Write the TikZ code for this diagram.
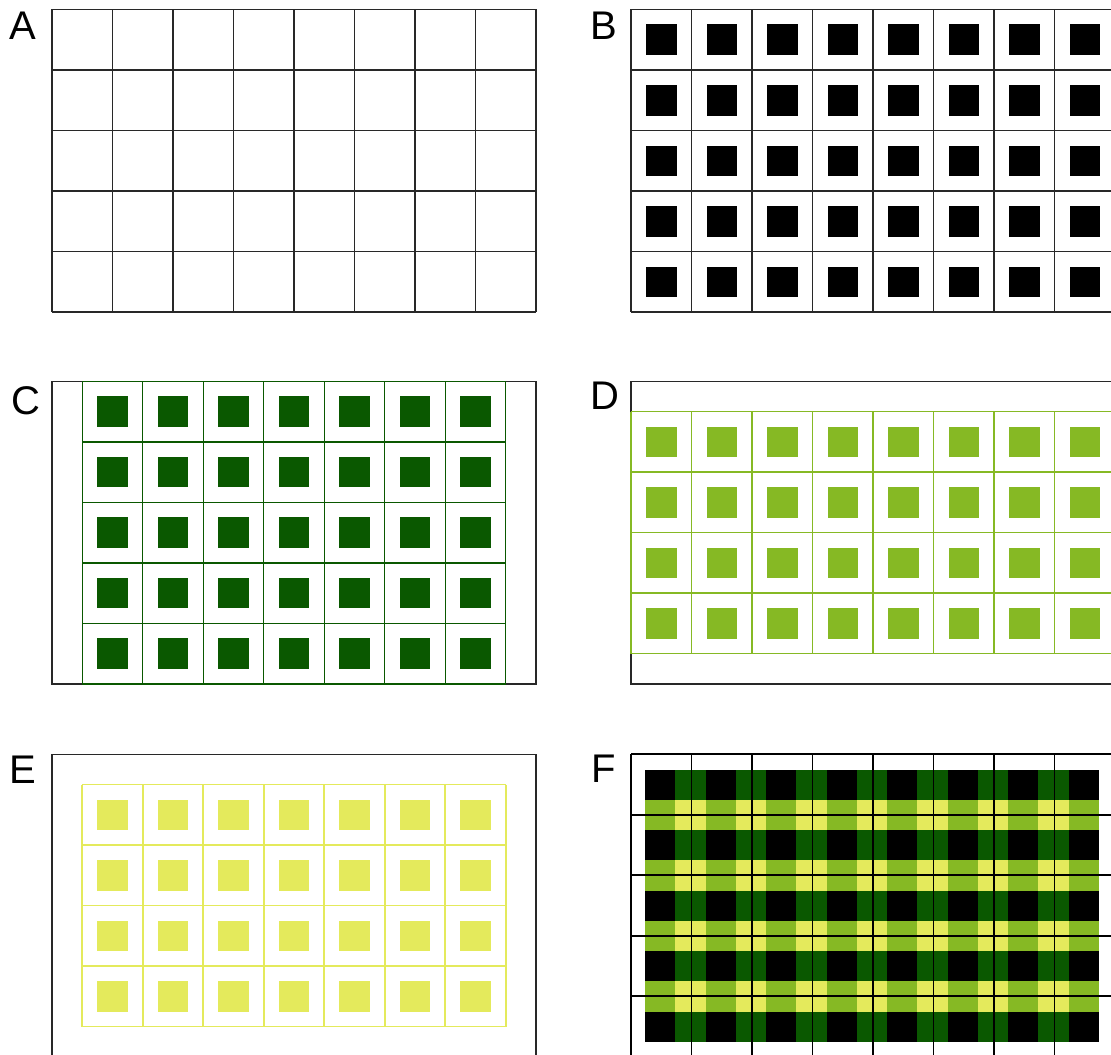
\documentclass[tikz,border=0pt]{standalone}
\usepackage{fontspec}
\setmainfont{Liberation Sans}
\usepackage{xcolor}
\definecolor{PlateLine}{RGB}{40, 40, 40}
\definecolor{PlateDark}{RGB}{10, 88, 0}
\definecolor{PlateLime}{RGB}{134, 185, 36}
\definecolor{PlateYellow}{RGB}{228, 234, 92}

\tikzset{
  gridline/.style={line width=0.7pt},
  tag/.style={inner sep=0pt, font=\fontsize{20}{22}\selectfont}
}

\begin{document}
\begin{tikzpicture}[x=0.5pt,y=-0.5pt]
  \path[use as bounding box] (0,0) rectangle (1111,1054);
  \clip (0,0) rectangle (1111,1054);
  \fill[white] (0,0) rectangle (1111,1054);

  % A
  \foreach \i in {0,...,8}
    \draw[gridline, PlateLine] ({52+60.5*\i},9.5) -- ++(0,302.5);
  \foreach \j in {0,...,5}
    \draw[gridline, PlateLine] (52,{9.5+60.5*\j}) -- ++(484,0);
  \node[tag] (labA) at (23.2,25.5) {A};

  % B
  \foreach \i in {0,...,7}
    \foreach \j in {0,...,4}
      \fill[black] ({646+60.5*\i},{24.5+60.5*\j}) rectangle ++(30.5,30.5);
  \foreach \i in {0,...,8}
    \draw[gridline, PlateLine] ({631+60.5*\i},9.5) -- ++(0,302.5);
  \foreach \j in {0,...,5}
    \draw[gridline, PlateLine] (631,{9.5+60.5*\j}) -- ++(484,0);
  \node[tag] (labB) at (604.3,26.2) {B};

  % C
  \draw[gridline, PlateLine] (52,381.3) rectangle (536,683.8);
  \foreach \i in {0,...,6}
    \foreach \j in {0,...,4}
      \fill[PlateDark] ({97.25+60.5*\i},{396.3+60.5*\j}) rectangle ++(30.5,30.5);
  \foreach \i in {0,...,7}
    \draw[gridline, PlateDark] ({82.25+60.5*\i},381.3) -- ++(0,302.5);
  \foreach \j in {0,...,5}
    \draw[gridline, PlateDark] (82.25,{381.3+60.5*\j}) -- ++(423.5,0);
  \node[tag] (labC) at (25.5,400.5) {C};

  % D
  \draw[gridline, PlateLine] (631,381.3) rectangle (1115,683.8);
  \foreach \i in {0,...,7}
    \foreach \j in {0,...,3}
      \fill[PlateLime] ({646+60.5*\i},{426.55+60.5*\j}) rectangle ++(30.5,30.5);
  \foreach \i in {0,...,8}
    \draw[gridline, PlateLime] ({631+60.5*\i},411.55) -- ++(0,242);
  \foreach \j in {0,...,4}
    \draw[gridline, PlateLime] (631,{411.55+60.5*\j}) -- ++(484,0);
  \node[tag] (labD) at (604.8,396.2) {D};

  % E
  \draw[gridline, PlateLine] (52,754.3) rectangle (536,1056.8);
  \foreach \i in {0,...,6}
    \foreach \j in {0,...,3}
      \fill[PlateYellow] ({97.25+60.5*\i},{799.55+60.5*\j}) rectangle ++(30.5,30.5);
  \foreach \i in {0,...,7}
    \draw[line width=0.9pt, PlateYellow] ({82.25+60.5*\i},784.55) -- ++(0,242);
  \foreach \j in {0,...,4}
    \draw[line width=0.9pt, PlateYellow] (82.25,{784.55+60.5*\j}) -- ++(423.5,0);
  \node[tag] (labE) at (22.7,770) {E};

  % F
  \foreach \i in {0,...,7}
    \foreach \j in {0,...,4}
      \fill[black] ({645+60.5*\i},{769.5+60.5*\j}) rectangle ++(30.25,30.25);
  \foreach \i in {0,...,6}
    \foreach \j in {0,...,4}
      \fill[PlateDark] ({675.25+60.5*\i},{769.5+60.5*\j}) rectangle ++(30.25,30.25);
  \foreach \i in {0,...,7}
    \foreach \j in {0,...,3}
      \fill[PlateLime] ({645+60.5*\i},{799.75+60.5*\j}) rectangle ++(30.25,30.25);
  \foreach \i in {0,...,6}
    \foreach \j in {0,...,3}
      \fill[PlateYellow] ({675.25+60.5*\i},{799.75+60.5*\j}) rectangle ++(30.25,30.25);
  \foreach \i in {0,...,8}
    \draw[line width=0.85pt, black] ({631+60.5*\i},754.3) -- ++(0,302.5);
  \foreach \j in {0,...,5}
    \draw[line width=0.85pt, black] (631,{754.3+60.5*\j}) -- ++(484,0);
  \node[tag] (labF) at (603.4,768.7) {F};
\end{tikzpicture}
\end{document}
